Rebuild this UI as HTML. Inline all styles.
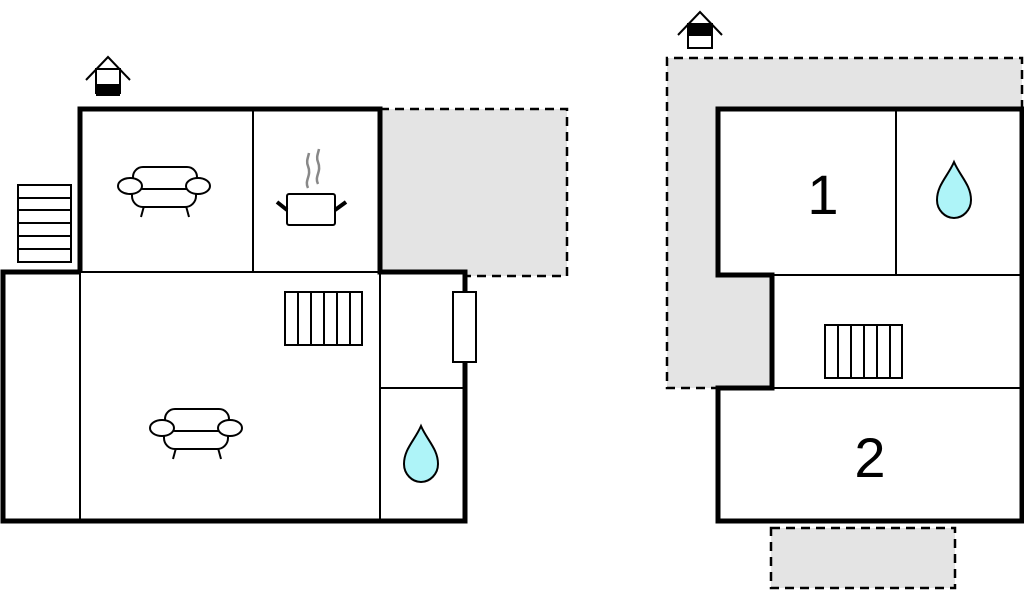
<!DOCTYPE html>
<html><head><meta charset="utf-8"><style>html,body{margin:0;padding:0;background:#fff;width:1024px;height:591px;overflow:hidden}</style></head>
<body>
<svg width="1024" height="591" viewBox="0 0 1024 591" xmlns="http://www.w3.org/2000/svg" font-family="Liberation Sans, sans-serif">
<defs>
<g id="sofa" fill="#fff" stroke="#000" stroke-width="2">
<line x1="-20" y1="18" x2="-23" y2="29"/><line x1="22" y1="18" x2="25" y2="29"/>
<rect x="-32" y="-6" width="64" height="25" rx="11"/>
<rect x="-31" y="-21" width="64" height="22" rx="10"/>
<ellipse cx="-34" cy="-2" rx="12" ry="8"/><ellipse cx="34" cy="-2" rx="12" ry="8"/>
</g>
<g id="drop"><path d="M0,-29 C-6,-15 -17,-6 -17,9 C-17,19 -9,27 0,27 C9,27 17,19 17,9 C17,-6 6,-15 0,-29Z" fill="#aef4f8" stroke="#000" stroke-width="2"/></g>
<g id="house" stroke="#000" stroke-width="2" fill="none">
<polyline points="-22,-10 0,-33 22,-10"/>
<rect x="-12" y="-21" width="24" height="24" fill="#fff"/>
</g>
</defs>

<!-- LEFT -->
<rect x="380" y="109" width="187" height="167" fill="#e4e4e4" stroke="#000" stroke-width="2.5" stroke-dasharray="9,6"/>
<rect x="3" y="272" width="462" height="249" fill="#fff"/>
<rect x="80" y="109" width="300" height="163" fill="#fff"/>
<g stroke="#000" stroke-width="2">
<line x1="253" y1="109" x2="253" y2="272"/>
<line x1="80" y1="272" x2="380" y2="272"/>
<line x1="80" y1="272" x2="80" y2="521"/>
<line x1="380" y1="272" x2="380" y2="521"/>
<line x1="380" y1="388" x2="465" y2="388"/>
</g>
<path d="M80,272 V109 H380 V272 H465 V521 H3 V272 H80" fill="none" stroke="#000" stroke-width="5"/>
<rect x="453" y="292" width="23" height="70" fill="#fff" stroke="#000" stroke-width="2"/>
<g stroke="#000" stroke-width="2" fill="#fff">
<rect x="18" y="185" width="53" height="77"/>
<line x1="18" y1="198" x2="71" y2="198"/><line x1="18" y1="210" x2="71" y2="210"/><line x1="18" y1="223" x2="71" y2="223"/><line x1="18" y1="236" x2="71" y2="236"/><line x1="18" y1="249" x2="71" y2="249"/>
<rect x="285" y="292" width="77" height="53"/>
<line x1="298" y1="292" x2="298" y2="345"/><line x1="311" y1="292" x2="311" y2="345"/><line x1="324" y1="292" x2="324" y2="345"/><line x1="337" y1="292" x2="337" y2="345"/><line x1="350" y1="292" x2="350" y2="345"/>
</g>
<use href="#sofa" x="164" y="188"/>
<use href="#sofa" x="196" y="430"/>
<use href="#drop" x="421" y="455"/>
<g stroke="#000" stroke-width="2" fill="#fff">
<rect x="287" y="194" width="48" height="31" rx="2"/>
<line x1="277" y1="202" x2="287" y2="210" stroke-width="4"/>
<line x1="346" y1="202" x2="335" y2="210" stroke-width="4"/>
</g>
<g stroke="#888" stroke-width="2.5" fill="none">
<path d="M308,188 c-4,-8 4,-12 0,-22 c-2,-5 0,-8 1,-13"/>
<path d="M318,184 c-4,-8 4,-12 0,-22 c-2,-5 0,-8 1,-13"/>
</g>
<use href="#house" x="108" y="90"/>
<rect x="96" y="84" width="24" height="12" fill="#000"/>

<!-- RIGHT -->
<path d="M667,58 H1022 V109 H718 V275 H772 V388 H667 Z" fill="#e4e4e4"/>
<path d="M1022,109 V58 H667 V388 H718" fill="none" stroke="#000" stroke-width="2.5" stroke-dasharray="9,6"/>
<path d="M718,109 H1022 V521 H718 V388 H772 V275 H718 Z" fill="#fff"/>
<g stroke="#000" stroke-width="2">
<line x1="896" y1="109" x2="896" y2="275"/>
<line x1="772" y1="275" x2="1022" y2="275"/>
<line x1="718" y1="388" x2="1022" y2="388"/>
</g>
<path d="M718,109 H1022 V521 H718 V388 H772 V275 H718 Z" fill="none" stroke="#000" stroke-width="5"/>
<rect x="771" y="528" width="184" height="60" fill="#e4e4e4" stroke="#000" stroke-width="2.5" stroke-dasharray="9,6"/>
<text x="823" y="214" font-size="56" text-anchor="middle">1</text>
<text x="870" y="477" font-size="56" text-anchor="middle">2</text>
<use href="#drop" x="954" y="191"/>
<g stroke="#000" stroke-width="2" fill="#fff">
<rect x="825" y="325" width="77" height="53"/>
<line x1="838" y1="325" x2="838" y2="378"/><line x1="851" y1="325" x2="851" y2="378"/><line x1="864" y1="325" x2="864" y2="378"/><line x1="877" y1="325" x2="877" y2="378"/><line x1="890" y1="325" x2="890" y2="378"/>
</g>
<use href="#house" x="700" y="45"/>
<rect x="688" y="25" width="24" height="11" fill="#000"/>
</svg>
</body></html>
